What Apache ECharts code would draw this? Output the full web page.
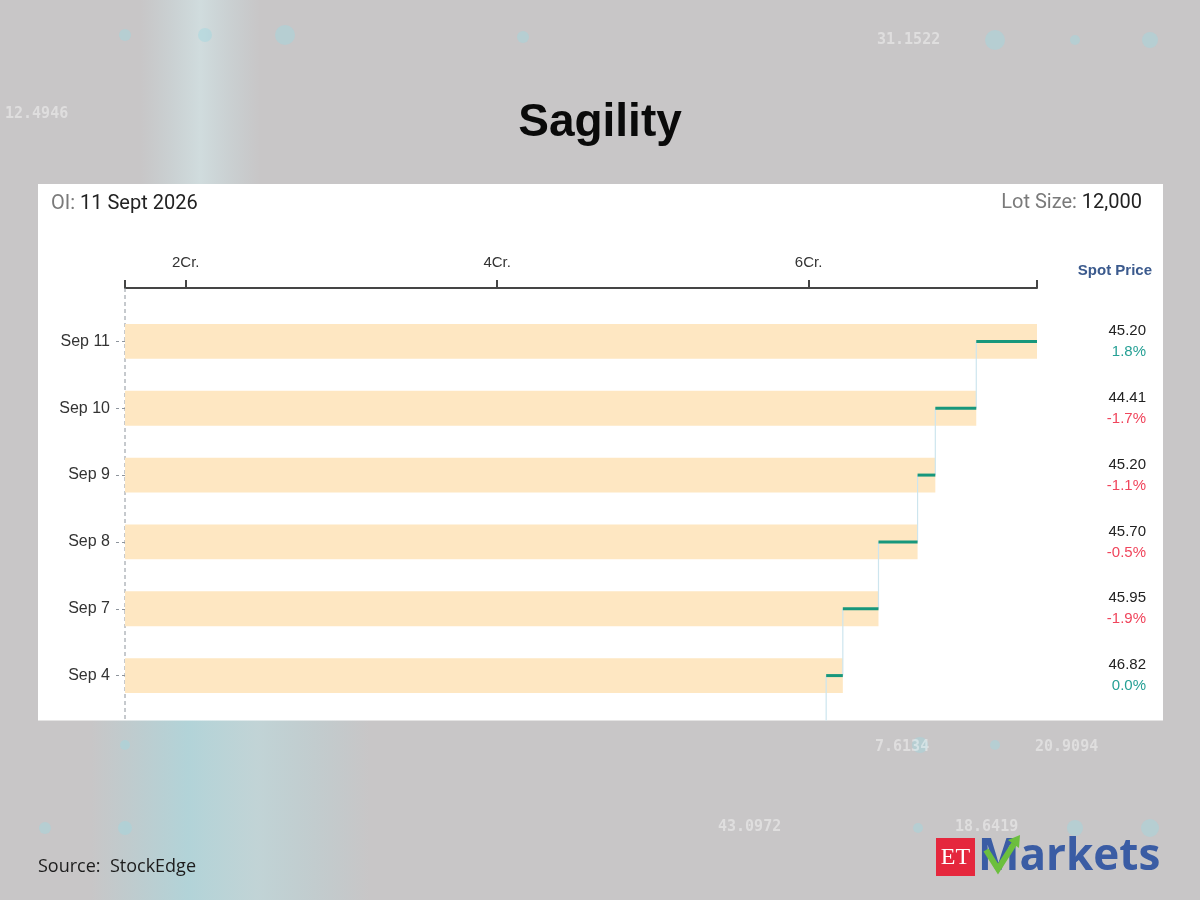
<!DOCTYPE html>
<html>
<head>
<meta charset="utf-8">
<title>Sagility OI</title>
<script src="https://cdn.jsdelivr.net/npm/echarts@6/dist/echarts.min.js"></script>
<style>
  html, body { margin: 0; padding: 0; background: #c8c6c7; }
  #chart { width: 1200px; height: 900px; }
</style>
</head>
<body>
<div id="chart"></div>
<script>
// Open interest per session, in crore (Cr.), top row first
const dates = ["Sep 11", "Sep 10", "Sep 9", "Sep 8", "Sep 7", "Sep 4"];
const oi = [7.467, 7.077, 6.814, 6.70, 6.449, 6.22];
const prevOi = [7.077, 6.814, 6.70, 6.449, 6.22, 6.113];
const spotPrice = ["45.20", "44.41", "45.20", "45.70", "45.95", "46.82"];
const spotChange = [1.8, -1.7, -1.1, -0.5, -1.9, 0.0];
const xLabelTicks = [2, 4, 6];
const xMin = 1.61;
const xMax = 7.467;

const GRID_LEFT = 125;
const GRID_RIGHT = 163;
const GRID_TOP = 308;
const GRID_HEIGHT = 401;
const PANEL = { x: 38, y: 184, w: 1125, h: 536.5 };
const PANEL_BOTTOM = PANEL.y + PANEL.h;

const GREEN = "#26a095";
const RED = "#f0455c";

const chart = echarts.init(document.getElementById("chart"));

function bgNumber(text, x, y) {
  return {
    type: "text", z: -9, x, y,
    style: { text, fill: "rgba(255,255,255,0.42)", font: "bold 15px 'DejaVu Sans Mono'" }
  };
}

function bgDot(cx, cy, r) {
  return {
    type: "circle", z: -9, shape: { cx, cy, r },
    style: { fill: "rgba(160,215,225,0.45)" }
  };
}

const graphics = [
  // backdrop glow bands
  {
    type: "rect", z: -10, shape: { x: 140, y: 0, width: 120, height: 240 },
    style: {
      fill: new echarts.graphic.LinearGradient(0, 0, 1, 0, [
        { offset: 0, color: "rgba(200,230,235,0)" },
        { offset: 0.5, color: "rgba(215,238,240,0.55)" },
        { offset: 1, color: "rgba(200,230,235,0)" }
      ])
    }
  },
  {
    type: "rect", z: -10, shape: { x: 90, y: 720, width: 280, height: 180 },
    style: {
      fill: new echarts.graphic.LinearGradient(0, 0, 1, 0, [
        { offset: 0, color: "rgba(160,220,228,0)" },
        { offset: 0.35, color: "rgba(160,222,230,0.55)" },
        { offset: 0.6, color: "rgba(185,228,232,0.45)" },
        { offset: 1, color: "rgba(160,220,228,0)" }
      ])
    }
  },
  bgDot(125, 35, 6), bgDot(205, 35, 7), bgDot(285, 35, 10), bgDot(523, 37, 6),
  bgDot(995, 40, 10), bgDot(1075, 40, 5), bgDot(1150, 40, 8),
  bgDot(125, 745, 5), bgDot(920, 745, 8), bgDot(995, 745, 5),
  bgDot(45, 828, 6), bgDot(125, 828, 7), bgDot(918, 828, 5), bgDot(1075, 828, 8), bgDot(1150, 828, 9),
  bgNumber("12.4946", 5, 107),
  bgNumber("31.1522", 877, 33),
  bgNumber("7.6134", 875, 740),
  bgNumber("20.9094", 1035, 740),
  bgNumber("43.0972", 718, 820),
  bgNumber("18.6419", 955, 820),
  // white panel holding the chart
  {
    type: "rect", z: -5,
    shape: { x: PANEL.x, y: PANEL.y, width: PANEL.w, height: PANEL.h },
    style: { fill: "#ffffff" }
  },
  // dashed category axis line, running from the value axis down to the panel edge
  {
    type: "line", z: 1,
    shape: { x1: GRID_LEFT, y1: 288, x2: GRID_LEFT, y2: PANEL_BOTTOM },
    style: { stroke: "#8d949c", lineWidth: 1, lineDash: [4, 3] }
  },
  // ET Markets logo
  {
    type: "rect", z: 5, shape: { x: 936, y: 838, width: 39, height: 38 },
    style: { fill: "#e5273d" }
  },
  {
    type: "text", z: 6, x: 955.5, y: 858,
    style: {
      text: "ET", fill: "#ffffff", font: "24px 'Liberation Serif'",
      align: "center", verticalAlign: "middle"
    }
  },
  {
    type: "text", z: 5, x: 978, y: 857,
    style: {
      text: "Markets", fill: "#3a5ca4", font: "bold 44px 'Open Sans'",
      verticalAlign: "middle"
    }
  },
  {
    type: "polyline", z: 6,
    shape: { points: [[986, 850], [998, 869], [1014, 844]] },
    style: { stroke: "#6cbf3e", lineWidth: 6, fill: null, lineJoin: "miter" }
  },
  {
    type: "polygon", z: 6,
    shape: { points: [[1008, 840], [1020, 835], [1019, 848]] },
    style: { fill: "#6cbf3e" }
  }
];

function spotLabel(value, idx) {
  const chg = spotChange[idx];
  const key = chg >= 0 ? "up" : "down";
  return "{p|" + spotPrice[idx] + "}\n{" + key + "|" + chg.toFixed(1) + "%}";
}

const stepData = dates.map((d, i) => [prevOi[i], oi[i], i]);

const headerRich = {
  a: { fontFamily: "Roboto", fontSize: 20, fontWeight: "normal", color: "#7a7a7a" },
  b: { fontFamily: "Roboto", fontSize: 20, fontWeight: "normal", color: "#222222" }
};

chart.setOption({
  animation: false,
  backgroundColor: "#c8c6c7",
  graphic: graphics,
  title: [
    {
      text: "Sagility", left: "center", top: 100, padding: 0,
      textStyle: { fontFamily: "Liberation Sans", fontWeight: "bold", fontSize: 46, color: "#0a0a0a" }
    },
    {
      text: "{a|OI:} {b|11 Sept 2026}", left: 51, top: 194, padding: 0,
      textStyle: { fontWeight: "normal", rich: headerRich }
    },
    {
      text: "{a|Lot Size:} {b|12,000}", right: 58, top: 193, padding: 0,
      textStyle: { fontWeight: "normal", rich: headerRich }
    },
    {
      text: "Spot Price", right: 48, top: 263, padding: 0,
      textStyle: { fontFamily: "Liberation Sans", fontWeight: "bold", fontSize: 15, color: "#3b5a8d" }
    },
    {
      text: "Source:  StockEdge", left: 38, top: 858, padding: 0,
      textStyle: { fontFamily: "Open Sans", fontWeight: "normal", fontSize: 18, color: "#1c1c1c" }
    }
  ],
  grid: { left: GRID_LEFT, right: GRID_RIGHT, top: GRID_TOP, height: GRID_HEIGHT },
  xAxis: {
    type: "value",
    position: "top",
    offset: 20,
    min: xMin,
    max: xMax,
    axisLine: { show: true, lineStyle: { color: "#454545", width: 2 } },
    axisTick: {
      show: true, length: 8,
      customValues: [xMin].concat(xLabelTicks, [xMax]),
      lineStyle: { color: "#454545", width: 2 }
    },
    axisLabel: {
      customValues: xLabelTicks,
      formatter: v => v + "Cr.",
      margin: 18,
      fontFamily: "Liberation Sans",
      fontSize: 15,
      color: "#333333"
    },
    splitLine: { show: false }
  },
  yAxis: [
    {
      type: "category",
      data: dates,
      inverse: true,
      axisLine: { show: false },
      axisTick: {
        show: true, alignWithLabel: true, length: 12,
        lineStyle: { color: "#8d949c", type: [3, 3] }
      },
      axisLabel: { fontFamily: "Liberation Sans", fontSize: 16, color: "#333333", margin: 15 },
      splitLine: { show: false }
    },
    {
      type: "category",
      data: dates,
      inverse: true,
      position: "right",
      axisLine: { show: false },
      axisTick: { show: false },
      axisLabel: {
        align: "right",
        margin: 109,
        formatter: spotLabel,
        rich: {
          p: { fontFamily: "Liberation Sans", fontSize: 15, color: "#222222", lineHeight: 21, align: "right" },
          up: { fontFamily: "Liberation Sans", fontSize: 15, color: GREEN, lineHeight: 21, align: "right" },
          down: { fontFamily: "Liberation Sans", fontSize: 15, color: RED, lineHeight: 21, align: "right" }
        }
      }
    }
  ],
  series: [
    {
      type: "bar",
      data: oi,
      barWidth: "52%",
      itemStyle: { color: "#fee7c2" },
      silent: true
    },
    {
      type: "custom",
      data: stepData,
      clip: false,
      z: 4,
      renderItem: function (params, api) {
        const row = api.value(2);
        const from = api.coord([api.value(0), row]);
        const to = api.coord([api.value(1), row]);
        const band = api.size([0, 1])[1];
        const yNext = Math.min(from[1] + band, PANEL_BOTTOM);
        return {
          type: "group",
          children: [
            {
              type: "line",
              shape: { x1: from[0], y1: from[1], x2: from[0], y2: yNext },
              style: { stroke: "#cde5ee", lineWidth: 1.2 }
            },
            {
              type: "line",
              shape: { x1: from[0], y1: from[1], x2: to[0], y2: to[1] },
              style: { stroke: "#17977c", lineWidth: 3 }
            }
          ]
        };
      }
    }
  ]
});
</script>
</body>
</html>
